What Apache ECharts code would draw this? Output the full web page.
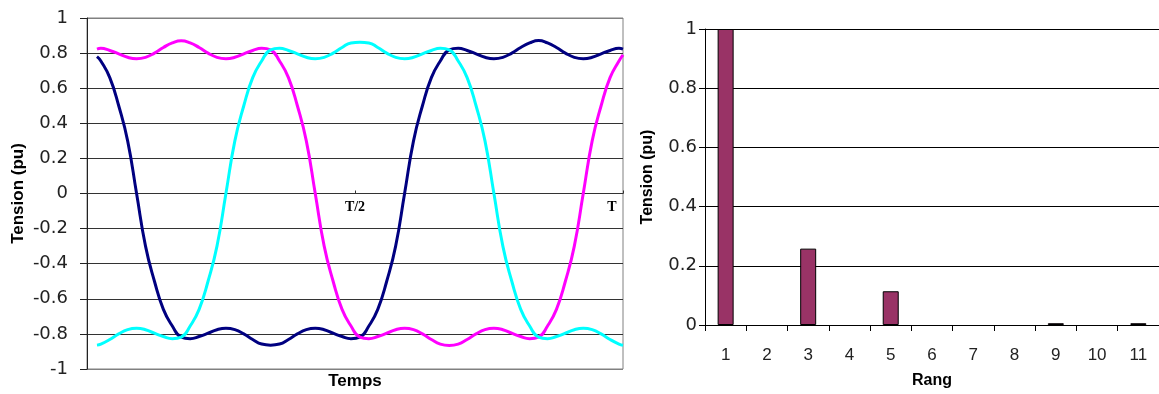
<!DOCTYPE html>
<html><head><meta charset="utf-8">
<script src="https://cdn.jsdelivr.net/npm/echarts@6/dist/echarts.min.js"></script>
<style>html,body{margin:0;padding:0;background:#fff}#c{width:1159px;height:394px}</style>
</head><body><div id="c"></div>
<script>
// Time axis: one period T expressed as 0..360
const timeDeg = [6.7, 9.3, 15.3, 21.3, 27.3, 33.3, 39.3, 45.3, 51.3, 57.3, 63.3, 69.3, 75.3, 81.3, 87.3, 93.3, 99.3, 105.3, 111.3, 117.3, 123.3, 129.3, 135.3, 141.3, 147.3, 153.3, 159.3, 165.3, 171.3, 177.3, 183.3, 189.3, 195.3, 201.3, 207.3, 213.3, 219.3, 225.3, 231.3, 237.3, 243.3, 249.3, 255.3, 261.3, 267.3, 273.3, 279.3, 285.3, 291.3, 297.3, 303.3, 309.3, 315.3, 321.3, 327.3, 333.3, 339.3, 345.3, 351.3, 357.3, 360];

const phaseNavy = [0.78,
  0.755, 0.660, 0.500, 0.300, 0.000, -0.300, -0.500, -0.660, -0.755, -0.818,
  -0.827, -0.815, -0.796, -0.776, -0.768, -0.776, -0.800, -0.832, -0.858, -0.864,
  -0.858, -0.832, -0.800, -0.776, -0.768, -0.776, -0.796, -0.815, -0.827, -0.818,
  -0.755, -0.660, -0.500, -0.300, 0.000, 0.300, 0.500, 0.660, 0.755, 0.818,
  0.827, 0.815, 0.796, 0.776, 0.768, 0.776, 0.800, 0.832, 0.858, 0.872,
  0.858, 0.832, 0.800, 0.776, 0.768, 0.776, 0.796, 0.815, 0.827,
  0.823];

const phaseMagenta = [0.823,
  0.827, 0.815, 0.796, 0.776, 0.768, 0.776, 0.800, 0.832, 0.858, 0.870,
  0.858, 0.832, 0.800, 0.776, 0.768, 0.776, 0.796, 0.815, 0.827, 0.818,
  0.755, 0.660, 0.500, 0.300, 0.000, -0.300, -0.500, -0.660, -0.755, -0.818,
  -0.827, -0.815, -0.796, -0.776, -0.768, -0.776, -0.800, -0.832, -0.858, -0.866,
  -0.858, -0.832, -0.800, -0.776, -0.768, -0.776, -0.796, -0.815, -0.827, -0.818,
  -0.755, -0.660, -0.500, -0.300, 0.000, 0.300, 0.500, 0.660, 0.755,
  0.79];

const phaseCyan = [-0.864,
  -0.858, -0.832, -0.800, -0.776, -0.768, -0.776, -0.796, -0.815, -0.827, -0.818,
  -0.755, -0.660, -0.500, -0.300, 0.000, 0.300, 0.500, 0.660, 0.755, 0.818,
  0.827, 0.815, 0.796, 0.776, 0.768, 0.776, 0.800, 0.832, 0.858, 0.862,
  0.858, 0.832, 0.800, 0.776, 0.768, 0.776, 0.796, 0.815, 0.827, 0.818,
  0.755, 0.660, 0.500, 0.300, 0.000, -0.300, -0.500, -0.660, -0.755, -0.818,
  -0.827, -0.815, -0.796, -0.776, -0.768, -0.776, -0.800, -0.832, -0.858,
  -0.865];

const timeLabelValues = [180, 352.5];
const timeLabelTexts = ['T/2', 'T'];
const timeTickValues = [180, 360];

const rangCategories = ['1', '2', '3', '4', '5', '6', '7', '8', '9', '10', '11'];
const rangValues = [1, 0, 0.258, 0, 0.114, 0, 0, 0, 0.006, 0, 0.006];

const chart = echarts.init(document.getElementById('c'), null, {renderer: 'canvas'});

const leftSplitColors = ['#808080', '#333', '#333', '#333', '#333', '#333', '#333', '#333', '#333', '#333', '#808080'];

function pairs(vals) { return timeDeg.map((t, i) => [t, vals[i]]); }

const option = {
  animation: false,
  backgroundColor: '#fff',
  grid: [
    {left: 87, top: 18, width: 536, height: 351, show: true, borderColor: '#808080', borderWidth: 1, backgroundColor: 'transparent'},
    {left: 705, top: 29, width: 458, height: 297.5}
  ],
  xAxis: [
    {
      type: 'value', gridIndex: 0, min: 0, max: 360,
      axisLine: {show: true, onZero: true, lineStyle: {color: '#333', width: 1}},
      axisTick: {show: true, inside: true, length: 3, customValues: timeTickValues, lineStyle: {color: '#333'}},
      axisLabel: {show: false},
      splitLine: {show: false}
    },
    {
      type: 'category', gridIndex: 1, data: rangCategories,
      axisLine: {show: true, lineStyle: {color: '#000', width: 1}},
      axisTick: {show: true, length: 6, lineStyle: {color: '#000'}},
      axisLabel: {fontFamily: 'Liberation Sans', fontSize: 17, color: '#222', margin: 22},
      name: 'Rang', nameLocation: 'middle', nameGap: 48,
      nameTextStyle: {fontFamily: 'Liberation Sans', fontWeight: 'bold', fontSize: 16, color: '#000'}
    }
  ],
  yAxis: [
    {
      type: 'value', gridIndex: 0, min: -1, max: 1, interval: 0.2,
      axisLine: {show: true, lineStyle: {color: '#222', width: 1}},
      axisTick: {show: true, length: 7, lineStyle: {color: '#222'}},
      axisLabel: {fontFamily: 'DejaVu Sans', fontSize: 18, color: '#222', margin: 19},
      splitLine: {show: true, lineStyle: {color: leftSplitColors, width: 1}},
      name: 'Tension (pu)', nameLocation: 'middle', nameGap: 60,
      nameTextStyle: {fontFamily: 'Liberation Sans', fontWeight: 'bold', fontSize: 17, color: '#000'}
    },
    {
      type: 'value', gridIndex: 1, min: 0, max: 1, interval: 0.2,
      axisLine: {show: true, lineStyle: {color: '#000', width: 1}},
      axisTick: {show: true, length: 6, lineStyle: {color: '#000'}},
      axisLabel: {fontFamily: 'DejaVu Sans', fontSize: 18, color: '#222', margin: 8},
      splitLine: {show: true, lineStyle: {color: '#000', width: 1}},
      name: 'Tension (pu)', nameLocation: 'middle', nameGap: 49,
      nameTextStyle: {fontFamily: 'Liberation Sans', fontWeight: 'bold', fontSize: 16, color: '#000'}
    }
  ],
  series: [
    {type: 'line', xAxisIndex: 0, yAxisIndex: 0, data: pairs(phaseNavy), smooth: true, showSymbol: false, lineStyle: {color: '#000080', width: 3}, itemStyle: {color: '#000080'}},
    {type: 'line', xAxisIndex: 0, yAxisIndex: 0, data: pairs(phaseMagenta), smooth: true, showSymbol: false, lineStyle: {color: '#FF00FF', width: 3}, itemStyle: {color: '#FF00FF'}},
    {type: 'line', xAxisIndex: 0, yAxisIndex: 0, data: pairs(phaseCyan), smooth: true, showSymbol: false, lineStyle: {color: '#00FFFF', width: 3}, itemStyle: {color: '#00FFFF'}},
    {type: 'bar', xAxisIndex: 1, yAxisIndex: 1, barWidth: 16,
     data: rangValues.map(v => v === 0 ? {value: v, itemStyle: {borderWidth: 0}} : v),
     itemStyle: {color: '#993366', borderColor: '#000', borderWidth: 1}}
  ]
};
chart.setOption(option);

// Time-axis labels (T/2, T) placed just under the zero line, positioned through the axis scale
const labelGraphics = timeLabelValues.map((v, i) => {
  const p = chart.convertToPixel({xAxisIndex: 0, yAxisIndex: 0}, [v, 0]);
  return {type: 'text', x: p[0], y: p[1] + 14, style: {text: timeLabelTexts[i], align: 'center', verticalAlign: 'middle', font: 'bold 14px "Liberation Serif"', fill: '#000'}};
});
const leftGrid = chart.convertToPixel({xAxisIndex: 0, yAxisIndex: 0}, [180, -1]);
labelGraphics.push({type: 'text', x: leftGrid[0], y: leftGrid[1] + 12, style: {text: 'Temps', align: 'center', verticalAlign: 'middle', font: 'bold 17px "Liberation Sans"', fill: '#000'}});
chart.setOption({graphic: labelGraphics});
</script>
</body></html>
